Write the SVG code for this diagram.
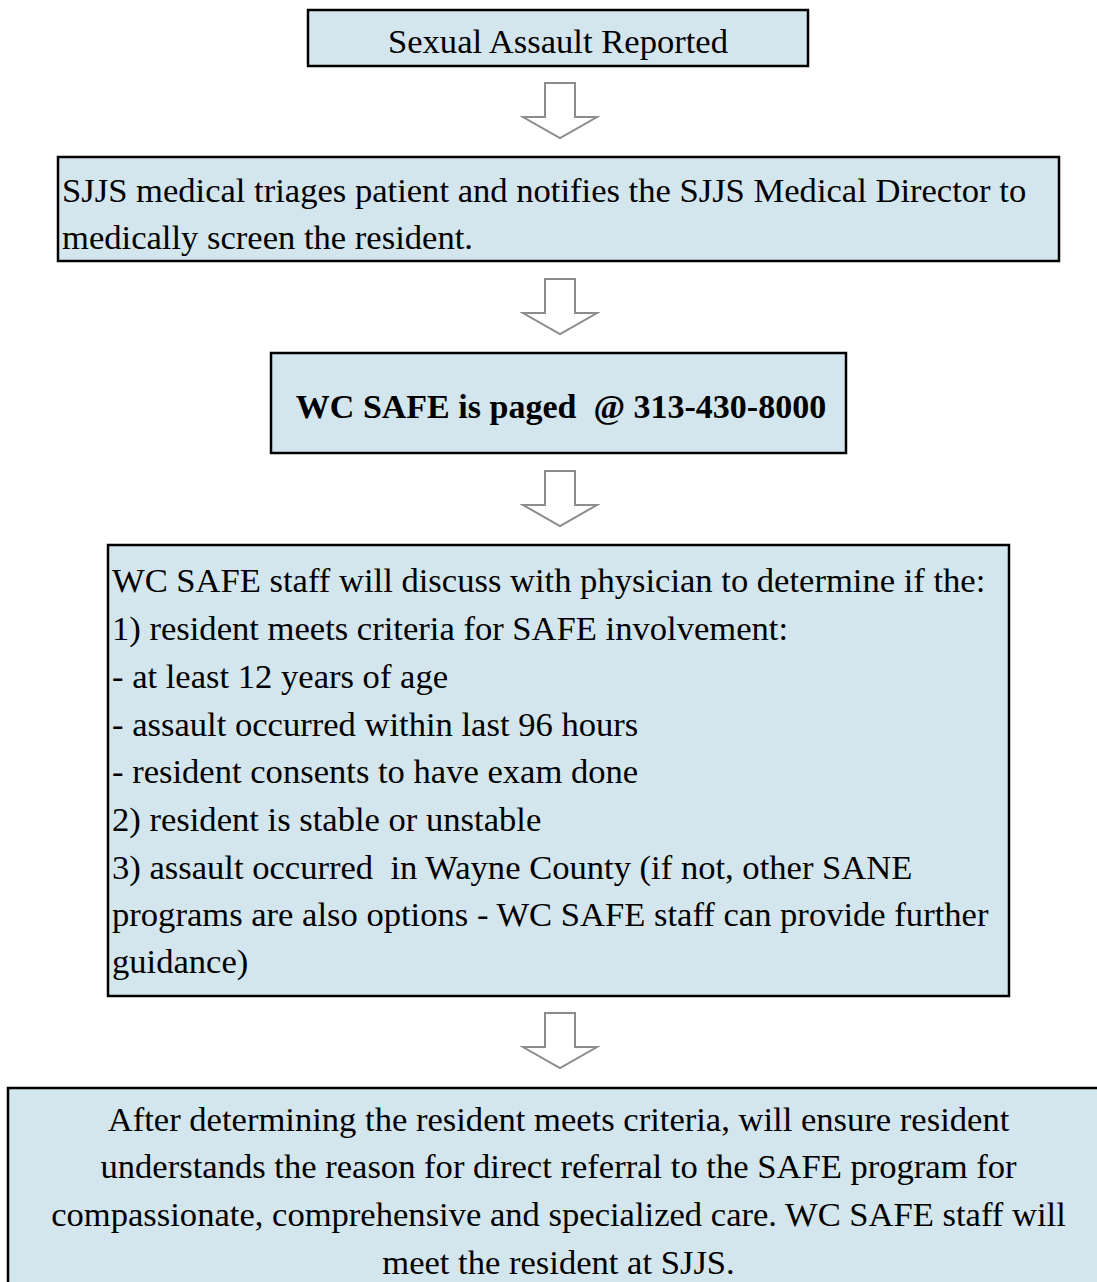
<svg xmlns="http://www.w3.org/2000/svg" xmlns:xlink="http://www.w3.org/1999/xlink" width="1097" height="1282" viewBox="0 0 1097 1282">
<style>
.box{fill:#d3e5ed;stroke:#000;stroke-width:2.5}
.t{font-family:"Liberation Serif","Times New Roman",serif;font-size:34.6px;fill:#000;white-space:pre}
.c{text-anchor:middle}
.b{font-weight:bold;font-size:34px}
.arr{fill:#fff;stroke:#8c8c8c;stroke-width:2;stroke-linejoin:miter}
</style>
<defs>
<path id="downArrow" d="M545,0 H575 V34 H597 L560,55 L523,34 H545 Z"/>
</defs>
<rect width="1097" height="1282" fill="#fff"/>
<g id="connectors">
<use xlink:href="#downArrow" href="#downArrow" class="arr" transform="translate(0,83)"/>
<use xlink:href="#downArrow" href="#downArrow" class="arr" transform="translate(0,279)"/>
<use xlink:href="#downArrow" href="#downArrow" class="arr" transform="translate(0,471)"/>
<use xlink:href="#downArrow" href="#downArrow" class="arr" transform="translate(0,1013)"/>
</g>
<g id="node1">
<rect class="box" x="308" y="10" width="500" height="56"/>
<text class="t c" x="558" y="53">Sexual Assault Reported</text>
</g>
<g id="node2">
<rect class="box" x="58" y="157" width="1001" height="104"/>
<text class="t" x="62" y="202">SJJS medical triages patient and notifies the SJJS Medical Director to</text>
<text class="t" x="62" y="249">medically screen the resident.</text>
</g>
<g id="node3">
<rect class="box" x="271" y="353" width="575" height="100"/>
<text class="t c b" x="561" y="418">WC SAFE is paged  @ 313-430-8000</text>
</g>
<g id="node4">
<rect class="box" x="108" y="545" width="901" height="451"/>
<text class="t" x="112" y="592">WC SAFE staff will discuss with physician to determine if the:</text>
<text class="t" x="112" y="640">1) resident meets criteria for SAFE involvement:</text>
<text class="t" x="112" y="688">- at least 12 years of age</text>
<text class="t" x="112" y="736">- assault occurred within last 96 hours</text>
<text class="t" x="112" y="783">- resident consents to have exam done</text>
<text class="t" x="112" y="831">2) resident is stable or unstable</text>
<text class="t" x="112" y="879">3) assault occurred  in Wayne County (if not, other SANE</text>
<text class="t" x="112" y="926">programs are also options - WC SAFE staff can provide further</text>
<text class="t" x="112" y="973">guidance)</text>
</g>
<g id="node5">
<rect class="box" x="8" y="1088" width="1101" height="230"/>
<text class="t c" x="558.5" y="1131">After determining the resident meets criteria, will ensure resident</text>
<text class="t c" x="558.5" y="1178">understands the reason for direct referral to the SAFE program for</text>
<text class="t c" x="558.5" y="1226">compassionate, comprehensive and specialized care. WC SAFE staff will</text>
<text class="t c" x="558.5" y="1274">meet the resident at SJJS.</text>
</g>
</svg>
